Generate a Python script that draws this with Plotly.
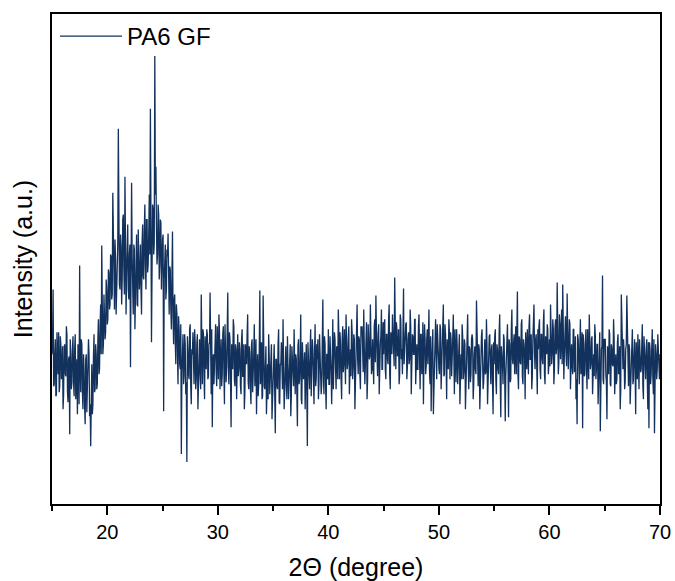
import numpy as np
import plotly.graph_objects as go

# 2-theta grid (degrees): values read at x.x0 and at x.x5 positions
two_theta_start = 15.0
two_theta_step = 0.1

# Intensity (a.u.) at whole-tenth positions, one row per degree (x.0 ... x.9)
intensity_rows = [
    [150, 215, 120, 165, 110, 148, 172, 118, 160, 128],  # 15
    [95, 158, 130, 178, 112, 145, 70, 150, 122, 168],    # 16
    [108, 170, 125, 90, 150, 239, 112, 160, 95, 135],    # 17
    [80, 150, 110, 165, 88, 58, 140, 100, 170, 115],     # 18
    [150, 120, 185, 135, 200, 259, 150, 210, 165, 225],  # 19
    [180, 235, 195, 250, 205, 312, 215, 265, 190, 250],  # 20
    [376, 220, 270, 200, 285, 235, 328, 190, 265, 215],  # 21
    [250, 137, 322, 205, 260, 175, 245, 200, 275, 215],  # 22
    [260, 190, 280, 225, 300, 215, 285, 240, 310, 396],  # 23
    [162, 300, 250, 449, 338, 240, 300, 225, 285, 215],  # 24
    [265, 93, 240, 205, 255, 271, 190, 235, 175, 273],   # 25
    [160, 210, 140, 190, 120, 175, 135, 50, 165, 120],   # 26
    [170, 110, 42, 155, 125, 180, 100, 150, 128, 175],   # 27
    [115, 160, 95, 150, 130, 210, 120, 170, 105, 145],   # 28
    [175, 125, 160, 212, 110, 77, 150, 135, 180, 118],   # 29
    [155, 190, 115, 165, 130, 178, 100, 150, 138, 212],  # 30
    [120, 165, 77, 150, 185, 125, 160, 105, 170, 135],   # 31
    [155, 110, 175, 128, 95, 160, 140, 190, 115, 150],   # 32
    [100, 165, 125, 180, 140, 90, 150, 120, 214, 130],   # 33
    [105, 209, 118, 155, 90, 140, 170, 110, 150, 85],    # 34
    [135, 160, 71, 145, 115, 175, 100, 140, 125, 185],   # 35
    [95, 150, 120, 168, 105, 140, 88, 158, 130, 175],    # 36
    [110, 145, 78, 165, 125, 190, 100, 150, 135, 95],    # 37
    [160, 58, 140, 115, 175, 130, 155, 100, 180, 125],   # 38
    [145, 105, 170, 135, 120, 205, 110, 160, 95, 150],   # 39
    [175, 120, 155, 100, 185, 140, 165, 115, 150, 195],  # 40
    [125, 160, 105, 178, 140, 120, 190, 135, 165, 110],  # 41
    [155, 185, 125, 170, 95, 150, 200, 130, 165, 115],   # 42
    [175, 140, 195, 120, 160, 105, 180, 145, 200, 130],  # 43
    [165, 120, 185, 209, 140, 170, 110, 160, 195, 135],  # 44
    [150, 185, 125, 170, 140, 200, 115, 165, 190, 165],  # 45
    [227, 135, 175, 150, 120, 190, 145, 130, 216, 155],  # 46
    [180, 125, 165, 140, 195, 110, 170, 150, 185, 120],  # 47
    [160, 135, 190, 115, 170, 145, 100, 180, 130, 165],  # 48
    [140, 195, 120, 93, 170, 90, 155, 185, 125, 165],    # 49
    [135, 180, 115, 160, 200, 130, 170, 105, 150, 185],  # 50
    [125, 165, 140, 190, 110, 155, 175, 120, 160, 100],  # 51
    [150, 180, 125, 165, 95, 140, 190, 115, 155, 130],   # 52
    [170, 105, 150, 135, 204, 120, 160, 95, 145, 175],   # 53
    [115, 155, 130, 185, 100, 145, 170, 120, 160, 90],   # 54
    [140, 175, 110, 155, 130, 190, 87, 150, 120, 165],   # 55
    [83, 145, 180, 87, 160, 125, 195, 140, 170, 150],    # 56
    [130, 213, 115, 165, 140, 185, 120, 160, 105, 150],  # 57
    [175, 130, 190, 145, 115, 165, 200, 135, 170, 110],  # 58
    [155, 185, 125, 170, 140, 195, 120, 160, 180, 130],  # 59
    [165, 200, 140, 185, 120, 175, 150, 222, 130, 190],  # 60
    [145, 195, 220, 125, 170, 150, 211, 135, 185, 115],  # 61
    [160, 130, 175, 140, 105, 80, 165, 120, 185, 145],   # 62
    [76, 160, 130, 175, 115, 155, 190, 135, 165, 110],   # 63
    [150, 180, 125, 160, 100, 140, 73, 155, 229, 120],   # 64
    [165, 130, 85, 150, 175, 120, 160, 140, 185, 110],   # 65
    [150, 125, 170, 135, 95, 210, 140, 165, 115, 155],   # 66
    [209, 120, 160, 100, 145, 175, 125, 165, 90, 140],   # 67
    [170, 115, 155, 135, 180, 105, 150, 125, 165, 95],   # 68
    [76, 155, 130, 175, 110, 71, 160, 125, 170, 140],    # 69
    [150],                                                # 70.0
]

# Intensity (a.u.) at half-step positions x.05 ... x.95, one row per degree
intensity_half_rows = [
    [165, 118, 150, 108, 172, 130, 112, 168, 125, 158],  # 15
    [110, 160, 128, 170, 102, 148, 165, 115, 155, 122],  # 16
    [155, 105, 145, 160, 100, 138, 165, 112, 150, 98],   # 17
    [145, 92, 135, 150, 100, 128, 90, 148, 112, 160],    # 18
    [115, 165, 130, 178, 150, 200, 160, 195, 172, 215],  # 19
    [185, 232, 200, 248, 210, 255, 195, 245, 218, 260],  # 20
    [275, 215, 258, 225, 290, 210, 262, 230, 280, 205],  # 21
    [260, 200, 248, 190, 255, 215, 270, 198, 240, 228],  # 22
    [215, 262, 228, 275, 240, 285, 232, 270, 250, 290],  # 23
    [235, 295, 260, 310, 275, 250, 290, 240, 282, 255],  # 24
    [270, 225, 260, 215, 248, 198, 238, 195, 230, 188],  # 25
    [205, 162, 200, 150, 188, 140, 180, 132, 170, 128],  # 26
    [160, 122, 168, 130, 175, 118, 155, 172, 120, 162],  # 27
    [125, 170, 132, 165, 115, 158, 175, 128, 168, 135],  # 28
    [170, 128, 162, 118, 175, 140, 120, 165, 132, 178],  # 29
    [125, 172, 140, 118, 170, 132, 180, 122, 165, 138],  # 30
    [172, 125, 160, 135, 178, 118, 155, 170, 128, 162],  # 31
    [118, 165, 128, 160, 112, 152, 170, 122, 158, 115],  # 32
    [160, 112, 150, 118, 165, 128, 108, 155, 120, 162],  # 33
    [108, 150, 115, 158, 122, 105, 148, 130, 160, 112],  # 34
    [155, 110, 145, 118, 160, 102, 140, 162, 115, 150],  # 35
    [112, 158, 105, 148, 125, 160, 108, 145, 118, 155],  # 36
    [150, 110, 158, 120, 145, 105, 162, 125, 152, 115],  # 37
    [115, 162, 125, 155, 108, 165, 130, 150, 118, 160],  # 38
    [165, 120, 155, 110, 160, 130, 168, 118, 150, 125],  # 39
    [120, 168, 130, 160, 115, 172, 135, 158, 125, 170],  # 40
    [172, 125, 165, 132, 175, 120, 160, 140, 178, 128],  # 41
    [128, 172, 138, 165, 120, 175, 145, 168, 130, 178],  # 42
    [178, 132, 168, 140, 182, 125, 165, 148, 175, 135],  # 43
    [130, 178, 142, 172, 128, 180, 150, 168, 135, 182],  # 44
    [180, 135, 170, 145, 185, 130, 172, 150, 178, 138],  # 45
    [135, 182, 148, 175, 130, 185, 155, 170, 140, 180],  # 46
    [182, 138, 172, 145, 178, 132, 168, 150, 185, 140],  # 47
    [135, 178, 145, 170, 130, 182, 150, 165, 138, 175],  # 48
    [178, 132, 168, 140, 175, 125, 165, 150, 180, 135],  # 49
    [130, 175, 142, 168, 128, 180, 145, 165, 135, 172],  # 50
    [172, 128, 165, 135, 175, 122, 160, 142, 170, 130],  # 51
    [125, 168, 132, 160, 118, 170, 140, 158, 122, 165],  # 52
    [165, 120, 158, 130, 170, 118, 155, 135, 168, 125],  # 53
    [122, 165, 132, 160, 115, 168, 138, 155, 120, 162],  # 54
    [168, 125, 160, 135, 172, 120, 158, 140, 170, 128],  # 55
    [128, 172, 140, 165, 122, 175, 145, 160, 130, 178],  # 56
    [175, 130, 168, 142, 180, 128, 165, 148, 172, 135],  # 57
    [132, 178, 145, 170, 128, 180, 150, 165, 138, 175],  # 58
    [178, 135, 170, 145, 182, 130, 168, 150, 175, 140],  # 59
    [138, 182, 150, 175, 135, 185, 155, 172, 142, 180],  # 60
    [185, 140, 178, 150, 188, 138, 172, 155, 180, 145],  # 61
    [140, 175, 132, 168, 125, 170, 145, 160, 130, 172],  # 62
    [170, 128, 162, 135, 175, 125, 160, 140, 168, 130],  # 63
    [128, 168, 135, 160, 120, 172, 140, 158, 125, 165],  # 64
    [165, 122, 158, 130, 170, 118, 155, 138, 165, 125],  # 65
    [120, 162, 130, 158, 115, 165, 135, 152, 122, 160],  # 66
    [160, 118, 155, 128, 165, 120, 150, 135, 162, 125],  # 67
    [122, 165, 132, 158, 118, 168, 138, 155, 125, 162],  # 68
    [162, 120, 155, 128, 165, 118, 150, 135, 160, 125],  # 69
]

full = [v for row in intensity_rows for v in row]
half = [v for row in intensity_half_rows for v in row]
two_theta, intensity = [], []
for i, v in enumerate(full):
    two_theta.append(round(two_theta_start + i * two_theta_step, 3))
    intensity.append(v)
    if i < len(half):
        two_theta.append(round(two_theta_start + (i + 0.5) * two_theta_step, 3))
        intensity.append(half[i])

x_ticks = [20, 30, 40, 50, 60, 70]

fig = go.Figure()
fig.add_trace(go.Scatter(
    x=two_theta, y=intensity, mode="lines", name="PA6 GF",
    line=dict(color="#12315c", width=1.3),
))

font_family = "Arial, Liberation Sans, sans-serif"
fig.update_layout(
    width=675, height=581,
    margin=dict(l=52, r=15, t=14, b=77, autoexpand=False),
    paper_bgcolor="white", plot_bgcolor="white",
    font=dict(family=font_family, color="black"),
    showlegend=True,
    legend=dict(x=0.005, y=1.0, xanchor="left", yanchor="top",
                bgcolor="rgba(0,0,0,0)", font=dict(size=24, family=font_family),
                itemwidth=62),
)
fig.update_xaxes(
    range=[15, 70], tickvals=x_ticks, ticks="outside", ticklen=9, tickwidth=1.5,
    tickcolor="black", tickfont=dict(size=20), automargin=False,
    minor=dict(dtick=5, tick0=15, ticks="outside", ticklen=5, tickwidth=1.5, tickcolor="black"),
    showline=True, linecolor="black", linewidth=1.5, mirror=True,
    showgrid=False, zeroline=False,
    title=dict(text="2Θ (degree)", font=dict(size=25), standoff=17),
)
fig.update_yaxes(
    range=[0, 491], showticklabels=False, ticks="", automargin=False,
    showline=True, linecolor="black", linewidth=1.5, mirror=True,
    showgrid=False, zeroline=False,
    title=dict(text="Intensity (a.u.)", font=dict(size=25), standoff=11),
)

fig.write_html("out.html")
